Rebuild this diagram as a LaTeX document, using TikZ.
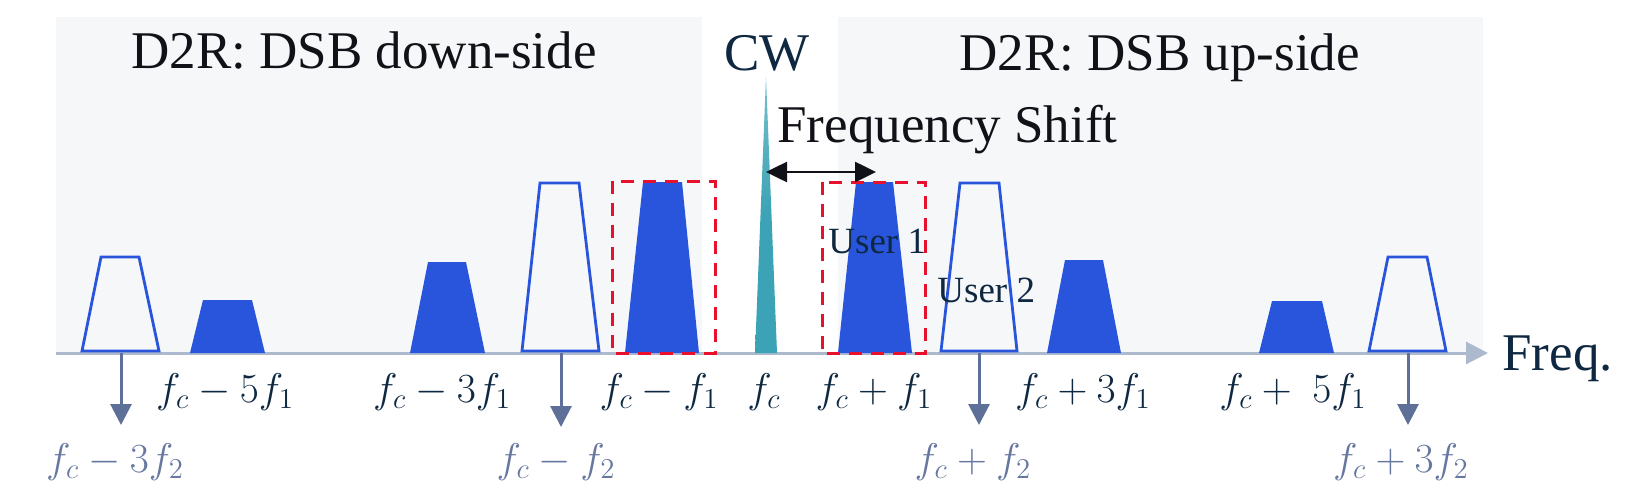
\documentclass[tikz,border=0pt]{standalone}
\usepackage{fontspec}
\setmainfont{Liberation Serif}
\usetikzlibrary{arrows.meta}
\definecolor{bgray}{RGB}{246,247,249}
\definecolor{sigblue}{RGB}{41,85,221}
\definecolor{cwteal}{RGB}{59,163,181}
\definecolor{boxred}{RGB}{232,17,45}
\definecolor{axisgray}{RGB}{173,186,206}
\definecolor{slate}{RGB}{94,112,152}
\definecolor{labslate}{RGB}{102,119,160}
\definecolor{navy}{RGB}{14,40,65}
\definecolor{ink}{RGB}{17,17,24}
\tikzset{
  bgpanel/.style={fill=bgray, draw=none},
  filledband/.style={fill=sigblue, draw=none},
  openband/.style={draw=sigblue, line width=1.4pt, line join=miter, fill=none},
  cwspike/.style={top color=cwteal!70, bottom color=cwteal, middle color=cwteal, draw=none},
  userbox/.style={draw=boxred, line width=1.5pt, dash pattern=on 6.5pt off 4.5pt},
  axisline/.style={draw=axisgray, line width=1.5pt, -{Triangle[length=11pt,width=11pt]}},
  downarrow/.style={draw=slate, line width=1.5pt, -{Triangle[length=10.5pt,width=10.5pt]}},
  shiftarrow/.style={draw=ink, line width=1.3pt, {Triangle[length=10.5pt,width=10pt]}-{Triangle[length=10.5pt,width=10pt]}},
  title/.style={font=\fontsize{26.5}{30}\selectfont, text=ink, inner sep=0pt},
  cwlabel/.style={font=\fontsize{26.5}{30}\selectfont, text=navy, inner sep=0pt},
  userlabel/.style={font=\fontsize{18.5}{21}\selectfont, text=navy, inner sep=0pt},
  uplab/.style={font=\fontsize{20}{23}\selectfont, text=navy, inner sep=0pt, anchor=base},
  lowlab/.style={font=\fontsize{20}{23}\selectfont, text=labslate, inner sep=0pt, anchor=base},
}
\begin{document}
\begin{tikzpicture}[x=0.5pt,y=-0.5pt]
\useasboundingbox (0,0) rectangle (1627,488);
% background panels
\path[bgpanel] (56,17) rectangle (702,353);
\path[bgpanel] (838,17) rectangle (1483,353);
% titles
\node[title, anchor=base west] (tdown) at (131,68) {D2R: DSB down-side};
\node[cwlabel, anchor=base] (cw) at (767,70) {CW};
\node[title, anchor=base west] (tup) at (959,70) {D2R: DSB up-side};
\node[title, anchor=base west] (fshift) at (777,142) {Frequency Shift};
% axis
\coordinate (axL) at (56,353);
\coordinate (axR) at (1488,353);
\draw[axisline] (axL) -- (axR);
\node[cwlabel, anchor=base west] (freq) at (1502,370) {Freq.};
% bands
\draw[openband] (82,351) -- (101,257) -- (139,257) -- (159,351) -- cycle;
\fill[filledband] (190,353) -- (203,300) -- (252,300) -- (265,353) -- cycle;
\fill[filledband] (410,353) -- (428,262) -- (466,262) -- (485,353) -- cycle;
\draw[openband] (522,351) -- (540,183) -- (579,183) -- (599,351) -- cycle;
\fill[filledband] (625,353) -- (643,182) -- (682,182) -- (699,353) -- cycle;
\shade[cwspike] (755,353) -- (766,77) -- (777,353) -- cycle;
\fill[filledband] (838,353) -- (856,182) -- (893,182) -- (912,353) -- cycle;
\draw[openband] (941,351) -- (960,183) -- (999,183) -- (1017,351) -- cycle;
\fill[filledband] (1047,353) -- (1065,260) -- (1103,260) -- (1121,353) -- cycle;
\fill[filledband] (1259,353) -- (1272,301) -- (1322,301) -- (1334,353) -- cycle;
\draw[openband] (1369,351) -- (1388,257) -- (1427,257) -- (1446,351) -- cycle;
% user boxes
\draw[userbox] (612,181) rectangle (715,353);
\draw[userbox] (822,182) rectangle (925,353);
\node[userlabel, anchor=base west] (u1) at (828,253) {User 1};
\node[userlabel, anchor=base west] (u2) at (937,302) {User 2};
% frequency shift arrow
\coordinate (shA) at (766,172);
\coordinate (shB) at (876,172);
\draw[shiftarrow] (shA) -- (shB);
% upper labels
\node[uplab] (l1) at (225,402) {$f_c - 5f_1$};
\node[uplab] (l2) at (442,402) {$f_c - 3f_1$};
\node[uplab] (l3) at (659,402) {$f_c - f_1$};
\node[uplab] (l4) at (764,402) {$f_c$};
\node[uplab] (l5) at (874,402) {$f_c + f_1$};
\node[uplab] (l6) at (1083,402) {$f_c + 3f_1$};
\node[uplab] (l7) at (1293,402) {$f_c +\; 5f_1$};
% lower labels
\node[lowlab] (m1) at (115,472) {$f_c - 3f_2$};
\node[lowlab] (m2) at (556,472) {$f_c - f_2$};
\node[lowlab] (m3) at (973,472) {$f_c + f_2$};
\node[lowlab] (m4) at (1401,472) {$f_c + 3f_2$};
% down arrows
\coordinate (d1s) at (121,353); \coordinate (d1e) at (121,425);
\coordinate (d2s) at (561,353); \coordinate (d2e) at (561,427);
\coordinate (d3s) at (979,353); \coordinate (d3e) at (979,425);
\coordinate (d4s) at (1408,353); \coordinate (d4e) at (1408,425);
\draw[downarrow] (d1s) -- (d1e);
\draw[downarrow] (d2s) -- (d2e);
\draw[downarrow] (d3s) -- (d3e);
\draw[downarrow] (d4s) -- (d4e);
\end{tikzpicture}
\end{document}
